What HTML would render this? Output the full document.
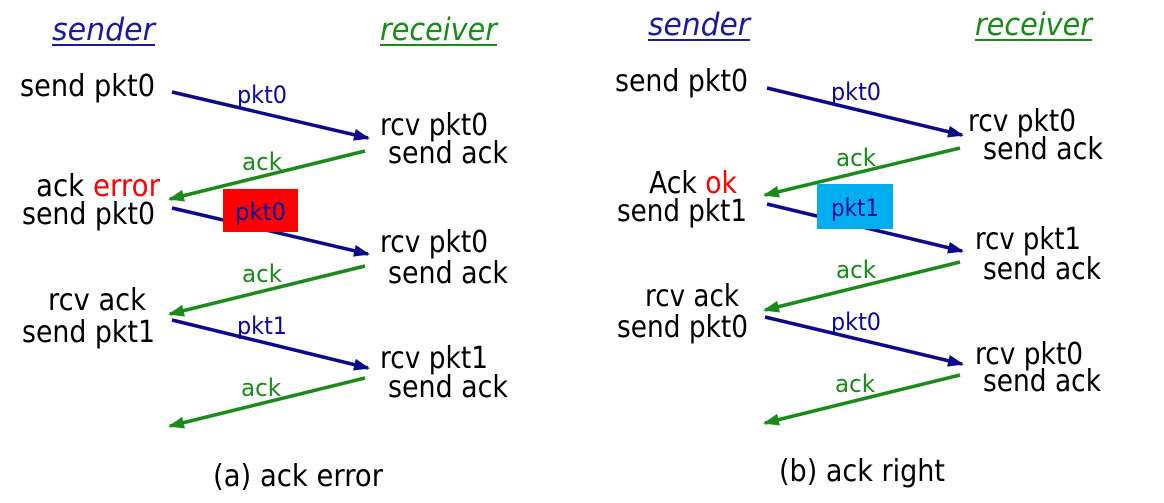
<!DOCTYPE html>
<html><head><meta charset="utf-8"><style>
html,body{margin:0;padding:0;background:#fff;}
svg{display:block;}
text{font-family:"DejaVu Sans","Liberation Sans",sans-serif;}
.t{font-size:30px;fill:#000;}
.lb{font-size:24px;fill:#0a0a9a;}
.lg{font-size:24px;fill:#1a8a1a;}
</style></head><body>
<svg width="1164" height="503" viewBox="0 0 1164 503" xmlns="http://www.w3.org/2000/svg">
<defs>
<marker id="ab" markerWidth="16" markerHeight="12" refX="14" refY="6" orient="auto" markerUnits="userSpaceOnUse"><path d="M0,0 L16,6 L0,12 Z" fill="#0a0a8c"/></marker>
<marker id="ag" markerWidth="16" markerHeight="12" refX="14" refY="6" orient="auto" markerUnits="userSpaceOnUse"><path d="M0,0 L16,6 L0,12 Z" fill="#1a8a1a"/></marker>
</defs>

<!-- LEFT -->
<text x="52" y="40" font-size="31" font-style="italic" fill="#1a1aa0" textLength="103" lengthAdjust="spacingAndGlyphs">sender</text>
<rect x="52" y="44" width="103" height="2" fill="#1a1aa0"/>
<text x="380" y="40" font-size="31" font-style="italic" fill="#1a8a1a" textLength="117" lengthAdjust="spacingAndGlyphs">receiver</text>
<rect x="380" y="44" width="117" height="2" fill="#1a8a1a"/>

<text class="t" x="20" y="96" textLength="135" lengthAdjust="spacingAndGlyphs">send pkt0</text>
<line x1="172" y1="92" x2="368" y2="138" stroke="#0a0a8c" stroke-width="3.5" marker-end="url(#ab)"/>
<text class="lb" x="237" y="103" textLength="50" lengthAdjust="spacingAndGlyphs">pkt0</text>
<text class="t" x="380" y="135" textLength="108" lengthAdjust="spacingAndGlyphs">rcv pkt0</text>
<text class="t" x="388" y="163" textLength="120" lengthAdjust="spacingAndGlyphs">send ack</text>
<line x1="365" y1="151" x2="170" y2="199" stroke="#1a8a1a" stroke-width="3.5" marker-end="url(#ag)"/>
<text class="lg" x="242" y="170" textLength="40" lengthAdjust="spacingAndGlyphs">ack</text>
<text class="t" x="36" y="196" textLength="124" lengthAdjust="spacingAndGlyphs">ack <tspan fill="#ff0000">error</tspan></text>
<text class="t" x="22" y="224" textLength="133" lengthAdjust="spacingAndGlyphs">send pkt0</text>
<line x1="172" y1="208" x2="368" y2="254" stroke="#0a0a8c" stroke-width="3.5" marker-end="url(#ab)"/>
<rect x="223" y="189" width="75" height="43" fill="#ff0000"/>
<text class="lb" x="235" y="220" textLength="51" lengthAdjust="spacingAndGlyphs">pkt0</text>
<text class="t" x="380" y="252" textLength="108" lengthAdjust="spacingAndGlyphs">rcv pkt0</text>
<text class="t" x="388" y="283" textLength="120" lengthAdjust="spacingAndGlyphs">send ack</text>
<line x1="365" y1="266" x2="170" y2="314" stroke="#1a8a1a" stroke-width="3.5" marker-end="url(#ag)"/>
<text class="lg" x="242" y="282" textLength="40" lengthAdjust="spacingAndGlyphs">ack</text>
<text class="t" x="48" y="310" textLength="98" lengthAdjust="spacingAndGlyphs">rcv ack</text>
<text class="t" x="22" y="342" textLength="133" lengthAdjust="spacingAndGlyphs">send pkt1</text>
<line x1="172" y1="320" x2="368" y2="368" stroke="#0a0a8c" stroke-width="3.5" marker-end="url(#ab)"/>
<text class="lb" x="237" y="334" textLength="50" lengthAdjust="spacingAndGlyphs">pkt1</text>
<text class="t" x="380" y="368" textLength="108" lengthAdjust="spacingAndGlyphs">rcv pkt1</text>
<text class="t" x="388" y="397" textLength="120" lengthAdjust="spacingAndGlyphs">send ack</text>
<line x1="365" y1="378" x2="170" y2="426" stroke="#1a8a1a" stroke-width="3.5" marker-end="url(#ag)"/>
<text class="lg" x="241" y="396" textLength="40" lengthAdjust="spacingAndGlyphs">ack</text>
<text class="t" x="213" y="486" textLength="170" lengthAdjust="spacingAndGlyphs">(a) ack error</text>

<!-- RIGHT -->
<text x="648" y="35" font-size="31" font-style="italic" fill="#1a1aa0" textLength="102" lengthAdjust="spacingAndGlyphs">sender</text>
<rect x="648" y="39" width="102" height="2" fill="#1a1aa0"/>
<text x="975" y="35" font-size="31" font-style="italic" fill="#1a8a1a" textLength="117" lengthAdjust="spacingAndGlyphs">receiver</text>
<rect x="975" y="39" width="117" height="2" fill="#1a8a1a"/>

<text class="t" x="615" y="91" textLength="133" lengthAdjust="spacingAndGlyphs">send pkt0</text>
<line x1="767" y1="88" x2="962" y2="135" stroke="#0a0a8c" stroke-width="3.5" marker-end="url(#ab)"/>
<text class="lb" x="831" y="100" textLength="50" lengthAdjust="spacingAndGlyphs">pkt0</text>
<text class="t" x="968" y="131" textLength="108" lengthAdjust="spacingAndGlyphs">rcv pkt0</text>
<text class="t" x="983" y="159" textLength="120" lengthAdjust="spacingAndGlyphs">send ack</text>
<line x1="960" y1="148" x2="765" y2="195" stroke="#1a8a1a" stroke-width="3.5" marker-end="url(#ag)"/>
<text class="lg" x="836" y="166" textLength="40" lengthAdjust="spacingAndGlyphs">ack</text>
<text class="t" x="649" y="193" textLength="88" lengthAdjust="spacingAndGlyphs">Ack <tspan fill="#ff0000">ok</tspan></text>
<text class="t" x="617" y="221" textLength="130" lengthAdjust="spacingAndGlyphs">send pkt1</text>
<line x1="767" y1="204" x2="962" y2="251" stroke="#0a0a8c" stroke-width="3.5" marker-end="url(#ab)"/>
<rect x="817" y="184" width="76" height="45" fill="#00aeef"/>
<text class="lb" x="831" y="216" textLength="48" lengthAdjust="spacingAndGlyphs">pkt1</text>
<text class="t" x="975" y="249" textLength="106" lengthAdjust="spacingAndGlyphs">rcv pkt1</text>
<text class="t" x="983" y="279" textLength="118" lengthAdjust="spacingAndGlyphs">send ack</text>
<line x1="960" y1="262" x2="765" y2="310" stroke="#1a8a1a" stroke-width="3.5" marker-end="url(#ag)"/>
<text class="lg" x="836" y="278" textLength="40" lengthAdjust="spacingAndGlyphs">ack</text>
<text class="t" x="645" y="306" textLength="94" lengthAdjust="spacingAndGlyphs">rcv ack</text>
<text class="t" x="617" y="337" textLength="131" lengthAdjust="spacingAndGlyphs">send pkt0</text>
<line x1="765" y1="317" x2="962" y2="364" stroke="#0a0a8c" stroke-width="3.5" marker-end="url(#ab)"/>
<text class="lb" x="831" y="330" textLength="50" lengthAdjust="spacingAndGlyphs">pkt0</text>
<text class="t" x="975" y="364" textLength="108" lengthAdjust="spacingAndGlyphs">rcv pkt0</text>
<text class="t" x="983" y="391" textLength="118" lengthAdjust="spacingAndGlyphs">send ack</text>
<line x1="960" y1="375" x2="765" y2="423" stroke="#1a8a1a" stroke-width="3.5" marker-end="url(#ag)"/>
<text class="lg" x="835" y="392" textLength="40" lengthAdjust="spacingAndGlyphs">ack</text>
<text class="t" x="779" y="481" textLength="166" lengthAdjust="spacingAndGlyphs">(b) ack right</text>
</svg>
</body></html>
